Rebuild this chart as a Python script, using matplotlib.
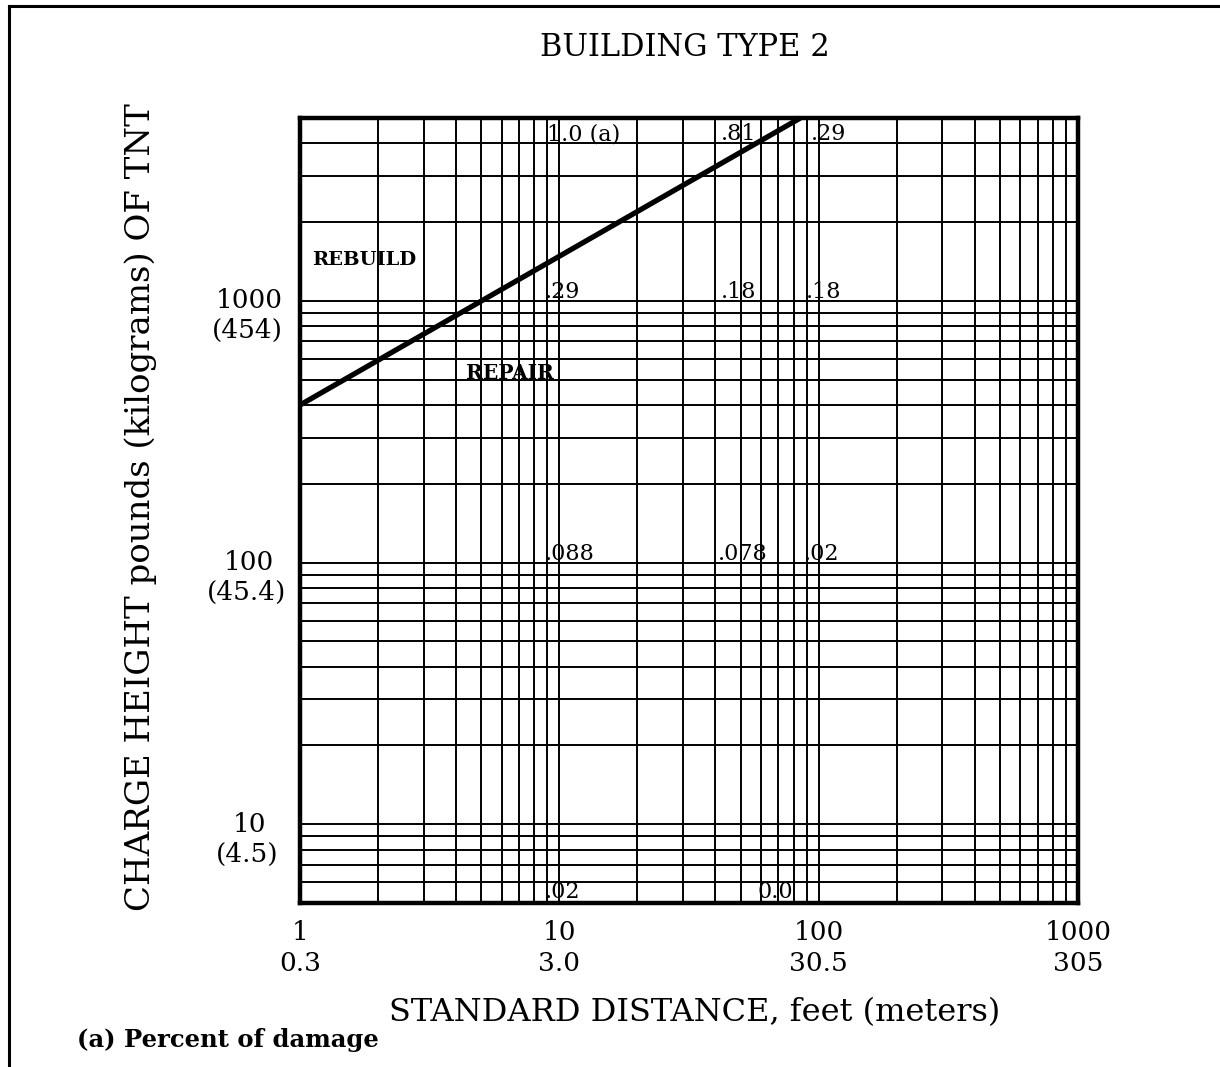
import numpy as np
import matplotlib.pyplot as plt
from matplotlib.lines import Line2D
from matplotlib.ticker import LogLocator, NullFormatter

plt.rcParams['font.family'] = ['DejaVu Serif']

# axis values (feet / meters, pounds / kilograms)
x_ticks = [1, 10, 100, 1000]
x_tick_meters = ['0.3', '3.0', '30.5', '305']
y_ticks = [10, 100, 1000]
y_tick_kg = ['(4.5)', '(45.4)', '(454)']

# rebuild / repair boundary
boundary_distance = [1, 85]
boundary_charge = [400, 5000]

# percent of damage labels
damage_labels = ['1.0 (a)', '.81', '.29', '.29', '.18', '.18',
                 '.088', '.078', '.02', '.02', '0.0']
damage_distance = [9.0, 42, 93, 8.8, 42, 89, 8.8, 41, 88, 8.8, 58]
damage_charge = [4000, 4000, 4000, 1000, 1000, 1000, 100, 100, 100, 5, 5]

fig = plt.figure(figsize=(12.2, 10.67), dpi=100)
ax = fig.add_axes([300/1220, 1-903/1067, 778/1220, 785/1067])

ax.set_xscale('log')
ax.set_yscale('log')
ax.set_xlim(1, 1000)
ax.set_ylim(5, 5000)

ax.xaxis.set_minor_locator(LogLocator(base=10, subs=np.arange(2, 10)))
ax.yaxis.set_minor_locator(LogLocator(base=10, subs=np.arange(2, 10)))
ax.xaxis.set_minor_formatter(NullFormatter())
ax.yaxis.set_minor_formatter(NullFormatter())
ax.grid(True, which='both', color='black', lw=1.4)
ax.tick_params(which='both', length=0)

for s in ax.spines.values():
    s.set_linewidth(3.2)

ax.plot(boundary_distance, boundary_charge, color='black', lw=3.8,
        solid_capstyle='butt', clip_on=False)

# x tick labels: feet over meters
ax.set_xticks(x_ticks, labels=[f'{f}\n{m}' for f, m in zip(x_ticks, x_tick_meters)])
ax.tick_params(axis='x', pad=12, labelsize=19)
for lbl in ax.get_xticklabels():
    lbl.set_linespacing(1.3)

# y tick labels drawn by hand (pounds over kilograms)
ax.set_yticks(y_ticks, labels=['', '', ''])
for v, kg in zip(y_ticks, y_tick_kg):
    ax.annotate(str(v), xy=(0, v), xycoords=('axes fraction', 'data'),
                xytext=(-51, 0), textcoords='offset pixels',
                ha='center', va='center', fontsize=19)
    ax.annotate(kg, xy=(0, v), xycoords=('axes fraction', 'data'),
                xytext=(-53, -30), textcoords='offset pixels',
                ha='center', va='center', fontsize=19)

for lbl, d, c in zip(damage_labels, damage_distance, damage_charge):
    off = 5 if c == 5 else 3
    ax.annotate(lbl, xy=(d, c), xytext=(0, off), textcoords='offset pixels',
                ha='left', va='baseline', fontsize=16)

ax.text(1.11, 1430, 'REBUILD', ha='left', va='center', fontsize=14, weight='bold')
ax.text(4.36, 530, 'REPAIR', ha='left', va='center', fontsize=14.5, weight='bold')

ax.set_ylabel('CHARGE HEIGHT pounds (kilograms) OF TNT', fontsize=24.5)
ax.yaxis.set_label_coords(-0.184, 0.505)

fig.text(685/1220, 1-48/1067, 'BUILDING TYPE 2', ha='center', va='center', fontsize=22)
fig.text(695/1220, 1-1013/1067, 'STANDARD DISTANCE, feet (meters)',
         ha='center', va='center', fontsize=23)
fig.text(77/1220, 1-1040/1067, '(a) Percent of damage', ha='left', va='center',
         fontsize=17.5, weight='bold')

# page frame
fig.add_artist(Line2D([9/1220, 9/1220], [0, 1-6/1067], color='black', lw=2.2))
fig.add_artist(Line2D([9/1220, 1], [1-6/1067, 1-6/1067], color='black', lw=2.2))

fig.savefig('out.png', dpi=100)
